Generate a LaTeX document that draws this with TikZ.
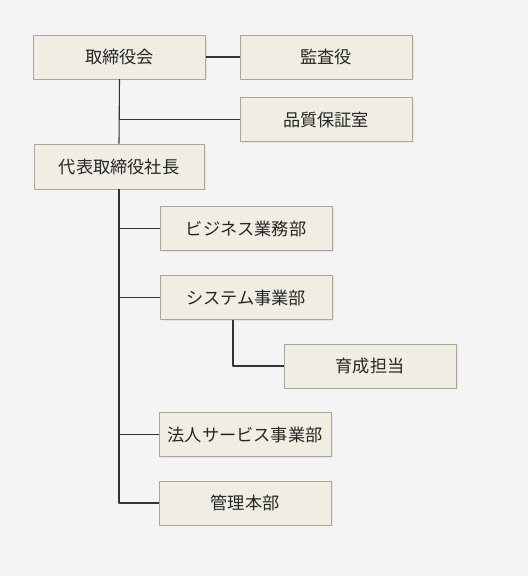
\documentclass[tikz,border=0pt]{standalone}
\usepackage{fontspec}
\newfontfamily\jpfont{Noto Sans CJK JP}
\usetikzlibrary{shadows}
\definecolor{bgcol}{HTML}{F4F4F4}
\definecolor{boxfill}{HTML}{F0EDE3}
\definecolor{boxline}{HTML}{A9A79C}
\definecolor{linecol}{HTML}{333333}
\definecolor{textcol}{HTML}{262626}
\tikzset{
  orgbox/.style={draw=boxline,fill=boxfill,line width=0.8bp,minimum width=172bp,minimum height=44bp,inner sep=0pt,
    text=textcol,font=\jpfont\fontsize{17.2bp}{20bp}\selectfont,
    drop shadow={shadow xshift=1.5bp,shadow yshift=-1.5bp,opacity=0.12}},
  orgline/.style={draw=linecol,line width=1.1bp},
}
\begin{document}
\begin{tikzpicture}[line join=bevel,]
%%
\fill [bgcol] (0bp,0bp) rectangle (528bp,576bp);
\useasboundingbox (0bp,0bp) rectangle (528bp,576bp);
%
\node (node_0) at (119.5bp,519bp) [orgbox] {取締役会};
  \node (node_1) at (326bp,519bp) [orgbox] {監査役};
  \node (node_2) at (326bp,456.5bp) [orgbox] {品質保証室};
  \node (node_3) at (119bp,409.5bp) [orgbox,minimum width=170bp,minimum height=45bp] {代表取締役社長};
  \node (node_4) at (246bp,347.5bp) [orgbox] {ビジネス業務部};
  \node (node_5) at (246bp,278.5bp) [orgbox] {システム事業部};
  \node (node_6) at (370bp,210bp) [orgbox] {育成担当};
  \node (node_7) at (245bp,141.5bp) [orgbox] {法人サービス事業部};
  \node (node_8) at (245bp,73bp) [orgbox] {管理本部};
%
  \draw [orgline] (node_0) -- (node_1);
  \draw [orgline] (node_0.south) -- (node_3.north);
  \draw [orgline] (node_0.south) |- (node_2.west);
  \draw [orgline] (node_3.south) |- (node_4.west);
  \draw [orgline] (node_3.south) |- (node_5.west);
  \draw [orgline] (node_3.south) |- (node_7.west);
  \draw [orgline] (node_3.south) |- (node_8.west);
  \draw [orgline] ([xshift=-13bp]node_5.south) |- (node_6.west);
%
\end{tikzpicture}
\end{document}
